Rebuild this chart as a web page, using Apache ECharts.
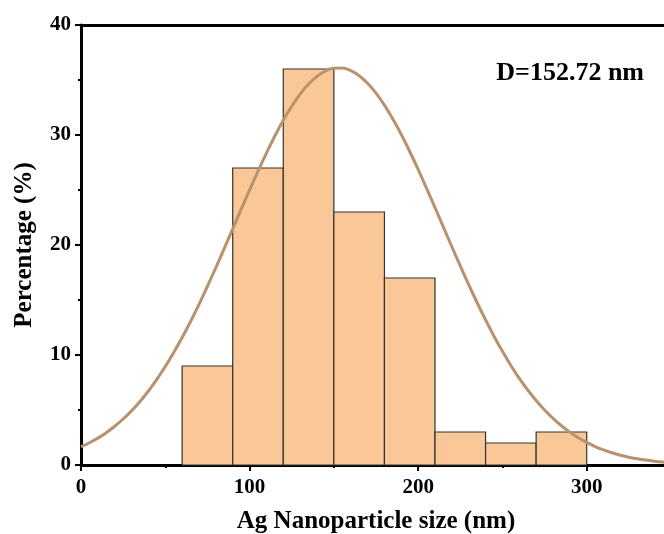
<!DOCTYPE html>
<html>
<head>
<meta charset="utf-8">
<script src="https://cdn.jsdelivr.net/npm/echarts@6/dist/echarts.min.js"></script>
<style>html,body{margin:0;padding:0;background:#fff}#c{width:664px;height:534px}</style>
</head>
<body>
<div id="c"></div>
<script>
// Histogram bins (nm) and percentages
var binStart = [60, 90, 120, 150, 180, 210, 240, 270];
var binEnd   = [90, 120, 150, 180, 210, 240, 270, 300];
var percent  = [9, 27, 36, 23, 17, 3, 2, 3];
// Fitted curve
var curveX = [0,5,10,15,20,25,30,35,40,45,50,55,60,65,70,75,80,85,90,95,100,105,110,115,120,125,130,135,140,145,150,155,160,165,170,175,180,185,190,195,200,205,210,215,220,225,230,235,240,245,250,255,260,265,270,275,280,285,290,295,300,305,310,315,320,325,330,335,340,345,350];
var curveY = [1.65,2.02,2.44,2.94,3.52,4.18,4.93,5.78,6.73,7.79,8.95,10.22,11.59,13.05,14.61,16.25,17.94,19.69,21.46,23.24,25.0,26.72,28.36,29.91,31.34,32.61,33.72,34.63,35.33,35.82,36.06,36.08,35.85,35.39,34.7,33.81,32.72,31.45,30.04,28.5,26.87,25.15,23.4,21.62,19.84,18.1,16.39,14.75,13.19,11.71,10.33,9.05,7.88,6.82,5.86,5.0,4.24,3.57,2.99,2.48,2.05,1.68,1.37,1.11,0.89,0.71,0.57,0.45,0.35,0.27,0.21];
var xTicks = [0, 100, 200, 300];
var yTicks = [0, 10, 20, 30, 40];
var annotation = 'D=152.72 nm';

var font = 'Liberation Serif, Times New Roman, serif';
var barData = binStart.map(function (s, i) { return [s, binEnd[i], percent[i]]; });
var lineData = curveX.map(function (x, i) { return [x, curveY[i]]; });

var chart = echarts.init(document.getElementById('c'));
chart.setOption({
  animation: false,
  backgroundColor: '#fff',
  title: {
    text: annotation, right: 15, top: 55,
    textStyle: { fontFamily: font, fontWeight: 'bold', fontSize: 26, color: '#000' }
  },
  grid: { left: 81, width: 590, top: 25, height: 440, outerBoundsMode: 'none', containLabel: false },
  xAxis: [{
    type: 'value', min: 0, max: 350, interval: 100,
    name: 'Ag Nanoparticle size (nm)', nameLocation: 'middle', nameGap: 44,
    nameTextStyle: { fontFamily: font, fontWeight: 'bold', fontSize: 25, color: '#000' },
    axisLine: { show: true, onZero: false, lineStyle: { color: '#000', width: 3 } },
    axisTick: { show: true, inside: false, length: 6, lineStyle: { color: '#000', width: 2 } },
    minorTick: { show: true, splitNumber: 2, length: 3, lineStyle: { color: '#000', width: 2 } },
    axisLabel: { fontFamily: font, fontWeight: 'bold', fontSize: 21, color: '#000', margin: 12,
      formatter: function (v) { return xTicks.indexOf(v) >= 0 ? String(v) : ''; } },
    splitLine: { show: false }
  }, {
    type: 'value', min: 0, max: 350, position: 'top',
    axisLine: { show: true, onZero: false, lineStyle: { color: '#000', width: 3 } },
    axisTick: { show: false }, axisLabel: { show: false }, splitLine: { show: false }
  }],
  yAxis: {
    type: 'value', min: 0, max: 40, interval: 10,
    name: 'Percentage (%)', nameLocation: 'middle', nameGap: 44, nameRotate: 90,
    nameTextStyle: { fontFamily: font, fontWeight: 'bold', fontSize: 25, color: '#000' },
    axisLine: { show: true, lineStyle: { color: '#000', width: 3 } },
    axisTick: { show: true, inside: false, length: 6, lineStyle: { color: '#000', width: 2 } },
    minorTick: { show: true, splitNumber: 2, length: 3, lineStyle: { color: '#000', width: 2 } },
    axisLabel: { fontFamily: font, fontWeight: 'bold', fontSize: 21, color: '#000', margin: 10,
      formatter: function (v) { return yTicks.indexOf(v) >= 0 ? String(v) : ''; } },
    splitLine: { show: false }
  },
  series: [{
    type: 'custom',
    data: barData,
    encode: { x: [0, 1], y: 2 },
    renderItem: function (params, api) {
      var p0 = api.coord([api.value(0), api.value(2)]);
      var p1 = api.coord([api.value(1), 0]);
      return {
        type: 'rect',
        shape: { x: p0[0], y: p0[1], width: p1[0] - p0[0], height: p1[1] - p0[1] },
        style: { fill: '#FAC898', stroke: '#333', lineWidth: 1.2 }
      };
    },
    z: 2
  }, {
    type: 'line', data: lineData, smooth: 0.3, showSymbol: false,
    lineStyle: { color: '#B8926C', width: 3 }, z: 3
  }]
});
</script>
</body>
</html>
